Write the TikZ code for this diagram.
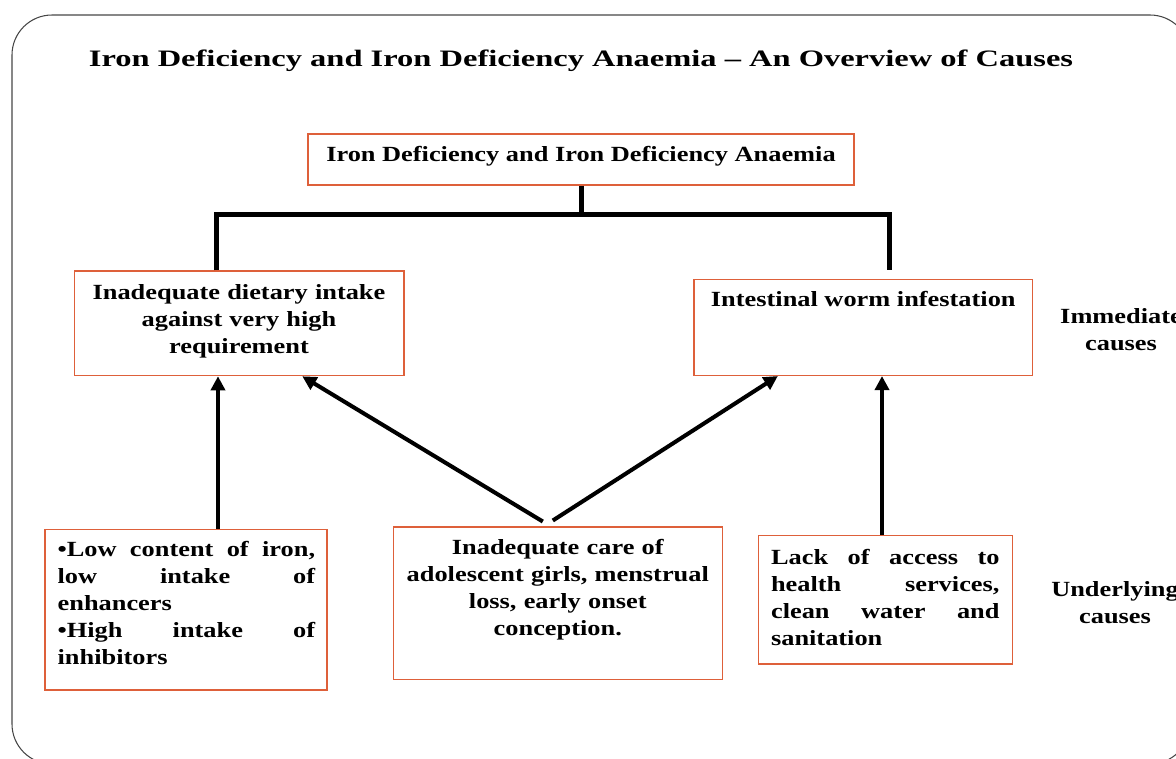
\documentclass[tikz,border=0pt]{standalone}
\usepackage{fontspec}
\usepackage{tikz}
\usetikzlibrary{arrows.meta}
\setmainfont{Liberation Serif}[FakeStretch=1.22]
\newfontfamily\titlefont{Liberation Serif}[FakeStretch=1.38]
\definecolor{boxorange}{RGB}{222,96,58}
\definecolor{framegray}{RGB}{70,70,70}
\tikzset{
  causebox/.style={draw=boxorange, line width=0.85pt, inner sep=0pt},
  boxtext/.style={font=\fontsize{12.3}{15.4}\selectfont\bfseries, inner sep=0pt},
  bar/.style={line width=2.85pt},
  arr/.style={line width=2.3pt, -{Triangle[length=8pt,width=8pt]}}
}

\begin{document}
\begin{tikzpicture}[x=0.02cm, y=-0.02cm]
\useasboundingbox (0,0) rectangle (1176,758);
\clip (0,0) rectangle (1176,758);
% Slide frame
\draw[framegray, line width=0.6pt, rounded corners=0.8cm] (12,15) rectangle (1190,764);
% Title
\node[anchor=base, inner sep=0pt, font=\titlefont\fontsize{13.4}{16}\selectfont\bfseries] (title) at (581,66.5) {Iron Deficiency and Iron Deficiency Anaemia – An Overview of Causes};
% Boxes
\node[causebox, minimum width=10.93cm, minimum height=1.02cm] (top) at (581,159.5) {};
\node[causebox, minimum width=6.59cm, minimum height=2.09cm] (la) at (239.3,323.3) {};
\node[causebox, minimum width=6.77cm, minimum height=1.92cm] (ri) at (863.3,327.3) {};
\node[causebox, minimum width=5.65cm, minimum height=3.21cm] (bl) at (186,609.7) {};
\node[causebox, minimum width=6.58cm, minimum height=3.05cm] (bm) at (557.8,603) {};
\node[causebox, minimum width=5.09cm, minimum height=2.57cm] (br) at (885.5,599.9) {};
% Box texts
\node[boxtext, anchor=base] (toptext) at (581,161.5) {Iron Deficiency and Iron Deficiency Anaemia};
\node[boxtext, anchor=base, text width=6.3cm, align=center] (latext) at (239,299) {Inadequate dietary intake\\against very high\\requirement};
\node[boxtext, anchor=base] (ritext) at (863.3,306.5) {Intestinal worm infestation};
\node[boxtext, anchor=base west, text width=5.15cm, align=justify] (bltext) at (57.3,556.5) {•Low content of iron,\linebreak low intake of\linebreak enhancers\\•High intake of\linebreak inhibitors};
\node[boxtext, anchor=base, text width=6.3cm, align=center] (bmtext) at (557.8,554.5) {Inadequate care of\\adolescent girls, menstrual\\loss, early onset\\conception.};
\node[boxtext, anchor=base west, text width=4.57cm, align=justify] (brtext) at (770.7,564) {Lack of access to\linebreak health services,\linebreak clean water and\linebreak sanitation};
% Side labels
\node[boxtext, anchor=base, text width=3cm, align=center] (immlabel) at (1121,323.5) {Immediate\\causes};
\node[boxtext, anchor=base, text width=3cm, align=center] (undlabel) at (1115,596.5) {Underlying\\causes};
% Tree connector
\coordinate (jl) at (216.5,214);
\coordinate (jr) at (889,214);
\draw[bar] (top.south) -- (top.south |- jl);
\draw[bar] (jl |- la.north) -- (jl) -- (jr) -- ++(0,56);
% Arrows
\draw[arr] ([xshift=0.64cm]bl.north) -- ([xshift=0.64cm]bl.north |- la.south);
\draw[arr] ([xshift=-0.3cm,yshift=0.09cm]bm.north) -- ([xshift=1.26cm]la.south);
\draw[arr] ([xshift=-0.1cm,yshift=0.11cm]bm.north) -- ([xshift=-1.71cm]ri.south);
\draw[arr] ([xshift=-0.07cm]br.north) -- ([xshift=-0.07cm]br.north |- ri.south);
\end{tikzpicture}
\end{document}
